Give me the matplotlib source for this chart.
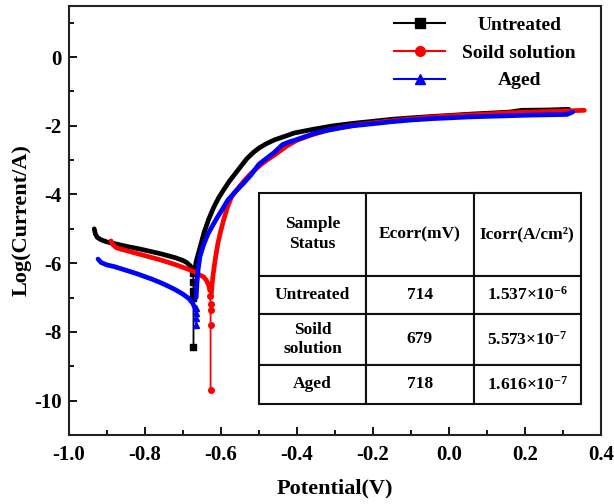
import matplotlib
matplotlib.use("Agg")
import matplotlib.pyplot as plt
from matplotlib.lines import Line2D
from matplotlib.ticker import MultipleLocator, FormatStrFormatter, FuncFormatter

plt.rcParams['font.family'] = ['Liberation Serif', 'DejaVu Serif']
plt.rcParams['font.weight'] = 'bold'
plt.rcParams['mathtext.fontset'] = 'custom'
plt.rcParams['mathtext.rm'] = 'Liberation Serif:bold'
plt.rcParams['mathtext.bf'] = 'Liberation Serif:bold'
plt.rcParams['mathtext.default'] = 'bf'

# ---- Data (Potential V, log current) ----
untreated_cath_x = [-0.933, -0.930, -0.925, -0.915, -0.90, -0.88, -0.86, -0.84, -0.82, -0.80, -0.78, -0.76, -0.74, -0.72, -0.70, -0.69, -0.68, -0.675]
untreated_cath_y = [-5.00, -5.15, -5.25, -5.32, -5.38, -5.43, -5.48, -5.53, -5.57, -5.62, -5.67, -5.72, -5.78, -5.84, -5.92, -5.98, -6.08, -6.20]
untreated_tip_x = [-0.673, -0.672, -0.672, -0.672, -0.672]
untreated_tip_y = [-6.30, -6.55, -6.80, -7.00, -8.45]
untreated_an_x = [-0.670, -0.665, -0.655, -0.644, -0.632, -0.619, -0.606, -0.593, -0.578, -0.562, -0.546, -0.531, -0.515, -0.50, -0.48, -0.459, -0.43, -0.407, -0.356, -0.304, -0.253, -0.20, -0.149, -0.10, -0.046, 0.0, 0.057, 0.11, 0.160, 0.191, 0.263, 0.315]
untreated_an_y = [-6.30, -5.95, -5.55, -5.10, -4.72, -4.38, -4.10, -3.87, -3.62, -3.39, -3.16, -2.95, -2.78, -2.65, -2.52, -2.41, -2.30, -2.21, -2.10, -2.00, -1.93, -1.87, -1.81, -1.77, -1.73, -1.70, -1.66, -1.63, -1.60, -1.55, -1.54, -1.52]

solid_cath_x = [-0.889, -0.885, -0.875, -0.86, -0.84, -0.82, -0.80, -0.78, -0.76, -0.74, -0.72, -0.70, -0.68, -0.665, -0.655, -0.645, -0.638, -0.632, -0.629]
solid_cath_y = [-5.35, -5.45, -5.55, -5.60, -5.66, -5.72, -5.78, -5.84, -5.90, -5.97, -6.04, -6.12, -6.20, -6.28, -6.35, -6.40, -6.50, -6.65, -6.80]
solid_tip_x = [-0.628, -0.627, -0.627, -0.627, -0.627]
solid_tip_y = [-6.95, -7.20, -7.35, -7.80, -9.70]
solid_an_x = [-0.625, -0.623, -0.620, -0.615, -0.608, -0.600, -0.593, -0.583, -0.572, -0.562, -0.552, -0.537, -0.521, -0.505, -0.49, -0.475, -0.459, -0.44, -0.428, -0.40, -0.36, -0.32, -0.28, -0.24, -0.18, -0.12, -0.06, 0.0, 0.08, 0.16, 0.24, 0.30, 0.356]
solid_an_y = [-6.90, -6.60, -6.30, -5.90, -5.43, -5.05, -4.75, -4.38, -4.07, -3.92, -3.78, -3.58, -3.39, -3.23, -3.09, -2.97, -2.85, -2.70, -2.60, -2.42, -2.26, -2.13, -2.04, -1.97, -1.89, -1.82, -1.76, -1.71, -1.67, -1.62, -1.59, -1.57, -1.55]

aged_cath_x = [-0.923, -0.915, -0.90, -0.88, -0.86, -0.84, -0.82, -0.80, -0.78, -0.76, -0.74, -0.72, -0.70, -0.685, -0.675, -0.668]
aged_cath_y = [-5.88, -5.98, -6.05, -6.10, -6.17, -6.24, -6.31, -6.39, -6.47, -6.56, -6.66, -6.77, -6.90, -7.02, -7.15, -7.30]
aged_tip_x = [-0.666, -0.665, -0.665, -0.665]
aged_tip_y = [-7.30, -7.45, -7.60, -7.80]
aged_an_x = [-0.665, -0.663, -0.660, -0.655, -0.645, -0.634, -0.624, -0.610, -0.596, -0.582, -0.562, -0.541, -0.52, -0.50, -0.48, -0.46, -0.438, -0.42, -0.40, -0.356, -0.32, -0.28, -0.253, -0.20, -0.15, -0.098, -0.04, 0.0, 0.057, 0.12, 0.18, 0.211, 0.26, 0.31, 0.325]
aged_an_y = [-7.00, -6.60, -6.20, -5.80, -5.45, -5.15, -4.95, -4.68, -4.43, -4.17, -3.92, -3.68, -3.42, -3.12, -2.95, -2.78, -2.55, -2.47, -2.40, -2.23, -2.13, -2.05, -2.00, -1.94, -1.88, -1.83, -1.79, -1.77, -1.74, -1.72, -1.70, -1.69, -1.68, -1.67, -1.60]

series_labels = ['Untreated', 'Soild solution', 'Aged']
series_colors = ['#000000', '#ff0000', '#0000ff']
series_markers = ['s', 'o', '^']

table_header = ['Sample\nStatus', 'Ecorr(mV)', 'Icorr(A/cm\u00b2)']
table_status = ['Untreated', 'Soild\nsolution', 'Aged']
table_ecorr = ['714', '679', '718']
table_icorr = [r'1.537×10$^{-6}$', r'5.573×10$^{-7}$', r'1.616×10$^{-7}$']

fig = plt.figure(figsize=(6.14, 5.04), dpi=100)
ax = fig.add_axes([0.112, 0.137, 0.867, 0.852])

groups = [
    (untreated_cath_x, untreated_cath_y, untreated_tip_x, untreated_tip_y, untreated_an_x, untreated_an_y),
    (solid_cath_x, solid_cath_y, solid_tip_x, solid_tip_y, solid_an_x, solid_an_y),
    (aged_cath_x, aged_cath_y, aged_tip_x, aged_tip_y, aged_an_x, aged_an_y),
]
for (cx, cy, tx, ty, axx, ayy), col, mk in zip(groups, series_colors, series_markers):
    ax.plot(cx, cy, color=col, lw=3.4, solid_capstyle='round', solid_joinstyle='round', zorder=3)
    ax.plot(tx, ty, color=col, lw=1.3, marker=mk, ms=4, zorder=3)
    ax.plot(axx, ayy, color=col, lw=3.4, solid_capstyle='round', solid_joinstyle='round', zorder=3)

ax.set_xlim(-1.0, 0.4)
ax.set_ylim(-11, 1.5)
ax.xaxis.set_major_locator(MultipleLocator(0.2))
ax.xaxis.set_minor_locator(MultipleLocator(0.1))
ax.yaxis.set_major_locator(MultipleLocator(2))
ax.yaxis.set_minor_locator(MultipleLocator(1))
ax.tick_params(which='both', direction='in', width=1.3, labelsize=15)
ax.tick_params(which='major', length=6)
ax.tick_params(which='minor', length=3.5)
ax.tick_params(axis='x', pad=7)
ax.tick_params(axis='y', pad=5)
for s in ax.spines.values():
    s.set_linewidth(1.5)
    s.set_color('#222222')
ax.set_xlabel('Potential(V)', fontsize=16, fontweight='bold', labelpad=10)
ax.set_ylabel('Log(Current/A)', fontsize=16, fontweight='bold', labelpad=2)
ax.xaxis.set_major_formatter(FormatStrFormatter('%.1f'))
ax.yaxis.set_major_formatter(FuncFormatter(lambda v, p: '%d' % v))

handles = [Line2D([0], [0], color=c, marker=m, ms=7, lw=1.5) for c, m in zip(series_colors, series_markers)]
leg = ax.legend(handles, series_labels, loc='upper right', frameon=False, fontsize=14,
                handlelength=2.6, bbox_to_anchor=(0.953, 0.975), borderaxespad=0, borderpad=0,
                labelspacing=0.52, handletextpad=0.9)
renderer = fig.canvas.get_renderer()
widths = [t.get_window_extent(renderer).width for t in leg.get_texts()]
wmax = max(widths)
for t, wi in zip(leg.get_texts(), widths):
    t.set_fontweight('bold')
    t.set_x((wmax - wi) / 2.0)

cell_text = [[s, e, i] for s, e, i in zip(table_status, table_ecorr, table_icorr)]
tbl = ax.table(cellText=cell_text, colLabels=table_header, cellLoc='center',
               bbox=[0.357, 0.072, 0.605, 0.492])
tbl.auto_set_font_size(False)
row_h = [0.392, 0.180, 0.242, 0.185]
for (r, c), cell in tbl.get_celld().items():
    cell.set_height(row_h[r])
    cell.set_linewidth(1.5)
    cell.set_edgecolor('#111111')
    cell.get_text().set_fontsize(12.5)
    cell.get_text().set_fontweight('bold')
    cell.get_text().set_linespacing(1.3)
tbl.set_zorder(5)

fig.savefig('out.png', dpi=100)
